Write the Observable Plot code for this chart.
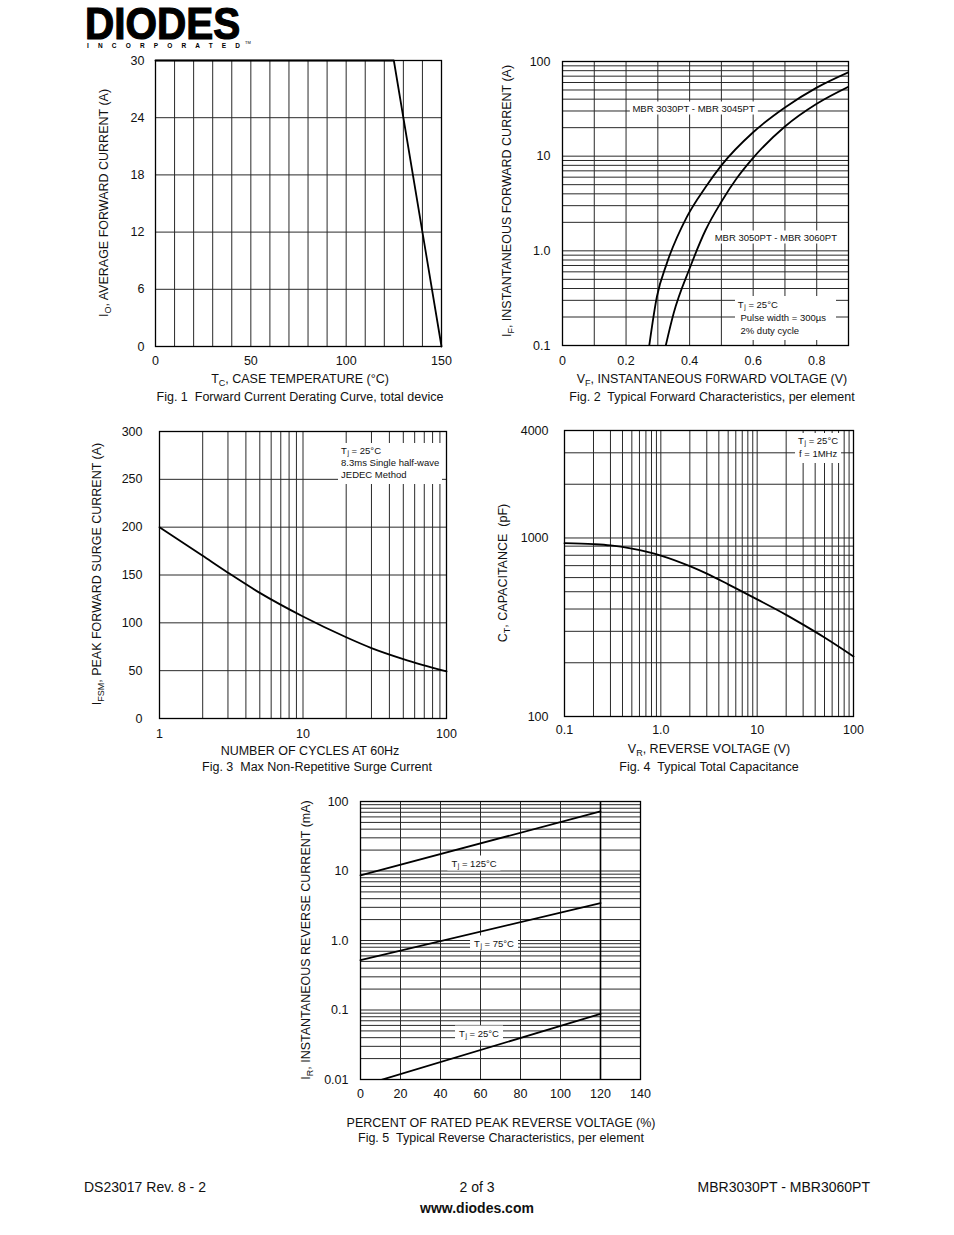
<!DOCTYPE html>
<html><head><meta charset="utf-8">
<script src="https://cdn.jsdelivr.net/npm/d3@7"></script>
<script src="https://cdn.jsdelivr.net/npm/@observablehq/plot@0.6"></script>
<style>
html,body{margin:0;padding:0;background:#fff;}
#page{position:relative;width:954px;height:1235px;overflow:hidden;font-family:"Liberation Sans",Arial,Helvetica,sans-serif;color:#111;background:#fff;}
.abs{position:absolute;white-space:pre;line-height:1;}
.t{font-size:12.5px;transform:translate(-50%,-50%);}
.rot{font-size:12.5px;transform:translate(-50%,-50%) rotate(-90deg);}
.foot{font-size:14px;transform:translateY(-50%);}
.note{position:absolute;background:#fff;font-size:9.5px;line-height:13px;white-space:pre;padding:0 3px;color:#111;}
sub{font-size:0.72em;vertical-align:-0.35em;line-height:0;}
.note sub{font-size:0.7em;vertical-align:-0.2em;margin-left:0.6px;}
</style></head><body><div id="page"></div>
<script>
// ---------- Fig. 1 data ----------
const fig1Temp = [0, 125, 150];
const fig1Current = [30, 30, 0];
const fig1TicksX = [0, 50, 100, 150];
const fig1TicksY = [0, 6, 12, 18, 24, 30];
const fig1GridX = [10, 20, 30, 40, 50, 60, 70, 80, 90, 100, 110, 120, 130, 140];
const fig1GridY = [6, 12, 18, 24];

// ---------- Fig. 2 data ----------
const fig2VoltA = [0.273, 0.297, 0.328, 0.391, 0.45, 0.50, 0.60, 0.70, 0.80, 0.90];
const fig2CurrA = [0.1, 0.327, 0.733, 2.275, 4.7, 8.0, 17.9, 32.7, 53, 77];
const fig2VoltB = [0.325, 0.35, 0.40, 0.45, 0.50, 0.55, 0.60, 0.70, 0.80, 0.90];
const fig2CurrB = [0.1, 0.22, 0.65, 1.65, 3.3, 5.94, 9.6, 20.6, 35.8, 54.2];
const fig2TicksX = [0, 0.2, 0.4, 0.6, 0.8];
const fig2TicksY = [0.1, 1, 10, 100];
const fig2LabelsY = ["0.1", "1.0", "10", "100"];
const fig2GridX = [0.1, 0.2, 0.3, 0.4, 0.5, 0.6, 0.7, 0.8];

// ---------- Fig. 3 data ----------
const fig3Cycles = [1, 2, 3, 5, 10, 20, 30, 50, 100];
const fig3Surge = [200, 170, 152.4, 131.3, 106.6, 84.9, 73.6, 62.1, 49.2];
const fig3TicksX = [1, 10, 100];
const fig3TicksY = [0, 50, 100, 150, 200, 250, 300];

// ---------- Fig. 4 data ----------
const fig4Volt = [0.1, 0.2, 0.3, 0.5, 1, 2, 3, 5, 10, 20, 30, 50, 100];
const fig4Cap = [935, 923, 908, 871, 797, 695, 631, 550, 453, 371, 327, 277, 217];
const fig4TicksX = [0.1, 1, 10, 100];
const fig4LabelsX = ["0.1", "1.0", "10", "100"];
const fig4TicksY = [100, 1000, 4000];
const fig4GridY = [200, 300, 400, 500, 600, 700, 800, 900, 1000, 2000, 3000];

// ---------- Fig. 5 data ----------
const fig5Percent = [0, 120];
const fig5Tj125 = [8.65, 72];
const fig5Tj75 = [0.52, 3.46];
const fig5Tj25Percent = [10, 120];
const fig5Tj25 = [0.0098, 0.088];
const fig5TicksX = [0, 20, 40, 60, 80, 100, 120, 140];
const fig5TicksY = [0.01, 0.1, 1, 10, 100];
const fig5LabelsY = ["0.01", "0.1", "1.0", "10", "100"];
const fig5GridX = [20, 40, 60, 80, 100, 120];

// ---------- helpers ----------
const FONT = '"Liberation Sans", Arial, Helvetica, sans-serif';
const page = document.getElementById("page");
const M = {l: 70, t: 12, r: 15, b: 32};
const GRID = "#2a2a2a";

function logGrid(lo, hi) { // minor log positions between decades lo..hi (exponents)
  const out = [];
  for (let k = lo; k < hi; k++) for (let m = 1; m <= 9; m++) out.push(+(m * Math.pow(10, k)).toPrecision(12));
  return out;
}
function chart(frame, x, y, marks) {
  const p = Plot.plot({
    width: M.l + frame.w + M.r, height: M.t + frame.h + M.b,
    marginLeft: M.l, marginRight: M.r, marginTop: M.t, marginBottom: M.b,
    style: {fontFamily: FONT, fontSize: "12.5px", color: "#111", background: "transparent", overflow: "visible"},
    x: {...x, label: null}, y: {...y, label: null}, marks
  });
  p.style.position = "absolute";
  p.style.left = (frame.x - M.l) + "px";
  p.style.top = (frame.y - M.t) + "px";
  page.appendChild(p);
  return p;
}
function html(cls, x, y, content) {
  const d = document.createElement("div");
  d.className = "abs " + cls;
  d.style.left = x + "px"; d.style.top = y + "px";
  d.innerHTML = content;
  page.appendChild(d);
  return d;
}
function note(plot, frame, xv, yv, content, mode, extra) {
  const sx = plot.scale("x").apply(xv), sy = plot.scale("y").apply(yv);
  const d = document.createElement("div");
  d.className = "note";
  d.style.left = (frame.x - M.l + sx) + "px";
  d.style.top = (frame.y - M.t + sy) + "px";
  if (mode === "center") d.style.transform = "translate(-50%,-50%)";
  if (mode === "topcenter") { d.style.transform = "translateX(-50%)"; d.style.textAlign = "center"; }
  if (extra) Object.assign(d.style, extra);
  d.innerHTML = content;
  page.appendChild(d);
}
const line = (xs, ys, extra = {}) => Plot.line(ys, {x: xs, y: ys, stroke: "#000", strokeWidth: 1.8, ...extra});

// ---------- Fig. 1 ----------
const F1 = {x: 155, y: 60, w: 286, h: 286};
chart(F1, {domain: [0, 150]}, {domain: [0, 30]}, [
  Plot.ruleX(fig1GridX, {stroke: GRID}),
  Plot.ruleY(fig1GridY, {stroke: GRID}),
  Plot.frame({stroke: "#000", strokeWidth: 1.3}),
  line(fig1Temp, fig1Current),
  Plot.axisX(fig1TicksX, {tickSize: 0, tickPadding: 10, label: null}),
  Plot.axisY(fig1TicksY, {tickSize: 0, tickPadding: 11, label: null})
]);
html("t", 300, 379, "T<sub>C</sub>, CASE TEMPERATURE (°C)");
html("t", 300, 397, "Fig. 1  Forward Current Derating Curve, total device");
html("rot", 104, 203, "I<sub>O</sub>, AVERAGE FORWARD CURRENT (A)");

// ---------- Fig. 2 ----------
const F2 = {x: 562, y: 61, w: 286, h: 284};
const p2 = chart(F2, {domain: [0, 0.9]}, {type: "log", domain: [0.1, 100]}, [
  Plot.ruleX(fig2GridX, {stroke: GRID}),
  Plot.ruleY(logGrid(-1, 2), {stroke: GRID}),
  Plot.frame({stroke: "#000", strokeWidth: 1.3}),
  line(fig2VoltA, fig2CurrA, {curve: "monotone-x", clip: true}),
  line(fig2VoltB, fig2CurrB, {curve: "monotone-x", clip: true}),
  Plot.axisX(fig2TicksX, {tickSize: 0, tickPadding: 10.5, label: null, tickFormat: d => d === 0 ? "0" : d.toFixed(1)}),
  Plot.axisY(fig2TicksY, {tickSize: 0, tickPadding: 12, label: null, tickFormat: d => fig2LabelsY[fig2TicksY.indexOf(d)]})
]);
note(p2, F2, 0.414, 31.9, "MBR 3030PT - MBR 3045PT", "center");
note(p2, F2, 0.673, 1.38, "MBR 3050PT - MBR 3060PT", "center");
note(p2, F2, 0.544, 0.33, "T<sub>j</sub> = 25°C\n Pulse width = 300µs\n 2% duty cycle", "tl", {paddingTop: "2px", paddingBottom: "3px", width: "95px"});
html("t", 712, 379, "V<sub>F</sub>, INSTANTANEOUS F0RWARD VOLTAGE (V)");
html("t", 712, 397, "Fig. 2  Typical Forward Characteristics, per element");
html("rot", 507, 201, "I<sub>F</sub>, INSTANTANEOUS FORWARD CURRENT (A)");

// ---------- Fig. 3 ----------
const F3 = {x: 159, y: 431, w: 287, h: 287};
const p3 = chart(F3, {type: "log", domain: [1, 100]}, {domain: [0, 300]}, [
  Plot.ruleX(logGrid(0, 2), {stroke: GRID}),
  Plot.ruleY(fig3TicksY, {stroke: GRID}),
  Plot.frame({stroke: "#000", strokeWidth: 1.3}),
  line(fig3Cycles, fig3Surge, {curve: "monotone-x"}),
  Plot.axisX(fig3TicksX, {tickSize: 0, tickPadding: 10.5, label: null, tickFormat: d => String(d)}),
  Plot.axisY(fig3TicksY, {tickSize: 0, tickPadding: 17, label: null})
]);
note(p3, F3, 17.7, 287, "T<sub>j</sub> = 25°C\n8.3ms Single half-wave\nJEDEC Method", "tl", {lineHeight: "12px", paddingTop: "1.5px", paddingBottom: "3px"});
html("t", 310, 751, "NUMBER OF CYCLES AT 60Hz");
html("t", 317, 767, "Fig. 3  Max Non-Repetitive Surge Current");
html("rot", 97, 574, "I<sub>FSM</sub>, PEAK FORWARD SURGE CURRENT (A)");

// ---------- Fig. 4 ----------
const F4 = {x: 564, y: 430, w: 289, h: 286};
const p4 = chart(F4, {type: "log", domain: [0.1, 100]}, {type: "log", domain: [100, 4000]}, [
  Plot.ruleX(logGrid(-1, 2), {stroke: GRID}),
  Plot.ruleY(fig4GridY, {stroke: GRID}),
  Plot.frame({stroke: "#000", strokeWidth: 1.3}),
  line(fig4Volt, fig4Cap, {curve: "monotone-x"}),
  Plot.axisX(fig4TicksX, {tickSize: 0, tickPadding: 8.5, label: null, tickFormat: d => fig4LabelsX[fig4TicksX.indexOf(d)]}),
  Plot.axisY(fig4TicksY, {tickSize: 0, tickPadding: 16, label: null, tickFormat: d => String(d)})
]);
note(p4, F4, 43.4, 3850, "T<sub>j</sub> = 25°C\nf = 1MHz", "topcenter", {lineHeight: "13px", paddingTop: "1px", paddingBottom: "3px"});
html("t", 709, 749, "V<sub>R</sub>, REVERSE VOLTAGE (V)");
html("t", 709, 767, "Fig. 4  Typical Total Capacitance");
html("rot", 503, 573, "C<sub>T</sub>, CAPACITANCE  (pF)");

// ---------- Fig. 5 ----------
const F5 = {x: 360, y: 801, w: 280, h: 278};
const p5 = chart(F5, {domain: [0, 140]}, {type: "log", domain: [0.01, 100]}, [
  Plot.ruleX(fig5GridX, {stroke: GRID}),
  Plot.ruleY(logGrid(-2, 2), {stroke: GRID}),
  Plot.ruleX([120], {stroke: "#000", strokeWidth: 1.6}),
  Plot.frame({stroke: "#000", strokeWidth: 1.3}),
  line(fig5Percent, fig5Tj125),
  line(fig5Percent, fig5Tj75),
  line(fig5Tj25Percent, fig5Tj25, {clip: true}),
  Plot.axisX(fig5TicksX, {tickSize: 0, tickPadding: 9.5, label: null}),
  Plot.axisY(fig5TicksY, {tickSize: 0, tickPadding: 12, label: null, tickFormat: d => fig5LabelsY[fig5TicksY.indexOf(d)]})
]);
note(p5, F5, 57, 12.8, "T<sub>j</sub> = 125°C", "center", {padding: "1px 4px"});
note(p5, F5, 67, 0.906, "T<sub>j</sub> = 75°C", "center", {padding: "1px 4px"});
note(p5, F5, 59.5, 0.046, "T<sub>j</sub> = 25°C", "center", {padding: "1px 4px"});
html("t", 501, 1123, "PERCENT OF RATED PEAK REVERSE VOLTAGE (%)");
html("t", 501, 1138, "Fig. 5  Typical Reverse Characteristics, per element");
html("rot", 306, 940, "I<sub>R</sub>, INSTANTANEOUS REVERSE CURRENT (mA)");

// ---------- logo & footer ----------
const logo = document.createElement("div");
logo.innerHTML = `<svg width="180" height="52" style="position:absolute;left:82px;top:2px;overflow:visible">
<text transform="translate(3,37) scale(1,1.09)" font-family='"Liberation Sans", Arial, sans-serif' font-weight="900" font-size="40.5" fill="#000" stroke="#000" stroke-width="1.1">DIODES</text>
<text x="5" y="46" font-family='"Liberation Sans", Arial, sans-serif' font-weight="bold" font-size="6.5" textLength="153" lengthAdjust="spacing" fill="#000">INCORPORATED</text>
<text x="163" y="42" font-family='"Liberation Sans", Arial, sans-serif' font-size="4" fill="#000">TM</text></svg>`;
page.appendChild(logo);

html("foot", 84, 1187, "DS23017 Rev. 8 - 2");
const mid = html("foot", 477, 1187, "2 of 3"); mid.style.transform = "translate(-50%,-50%)";
const rt = html("foot", 870, 1187, "MBR3030PT - MBR3060PT"); rt.style.transform = "translate(-100%,-50%)";
const www = html("foot", 477, 1208, "www.diodes.com"); www.style.transform = "translate(-50%,-50%)"; www.style.fontWeight = "bold";
</script></body></html>
